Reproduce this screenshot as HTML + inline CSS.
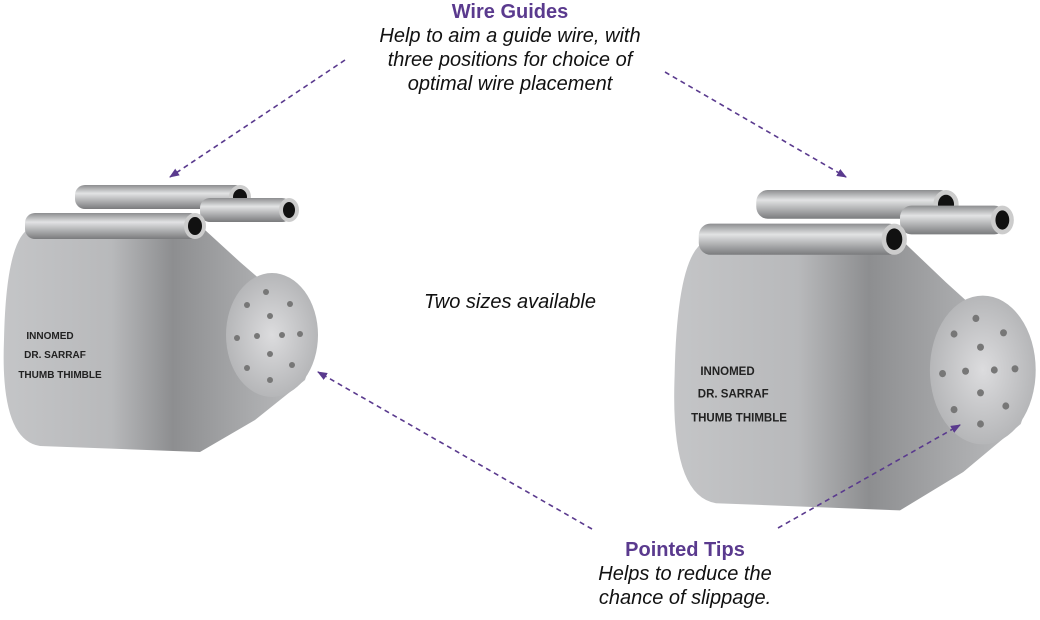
<!DOCTYPE html>
<html><head><style>
body{margin:0;background:#fff;}
.t{position:absolute;font-family:"Liberation Sans",sans-serif;color:#111;text-align:center;font-style:italic;font-size:20px;line-height:24px;}
.h{color:#5a3a8e;font-weight:bold;font-style:normal;}
</style></head><body>
<div style="position:relative;width:1040px;height:620px;overflow:hidden;">
<svg width="1040" height="620" style="position:absolute;left:0;top:0">
<defs>
<linearGradient id="body" x1="0" y1="0" x2="1" y2="0">
<stop offset="0" stop-color="#c4c5c7"/><stop offset="0.35" stop-color="#b8b9bb"/><stop offset="0.55" stop-color="#8d8e90"/><stop offset="0.8" stop-color="#a9aaac"/><stop offset="1" stop-color="#bdbec0"/></linearGradient>
<linearGradient id="tube" x1="0" y1="0" x2="0" y2="1">
<stop offset="0" stop-color="#8c8d8f"/><stop offset="0.35" stop-color="#e2e3e4"/><stop offset="1" stop-color="#7a7b7d"/></linearGradient>
<radialGradient id="face" cx="0.5" cy="0.5" r="0.6"><stop offset="0" stop-color="#dcdcde"/><stop offset="1" stop-color="#aeafb1"/></radialGradient>
<marker id="a" markerWidth="10" markerHeight="8" refX="9" refY="4" orient="auto" markerUnits="userSpaceOnUse"><path d="M0,0 L10,4 L0,8 Z" fill="#5a3a8e"/></marker>
<g id="th">
<rect x="75" y="185" width="170" height="24" rx="10" fill="url(#tube)"/>
<ellipse cx="240" cy="197" rx="11" ry="12" fill="#ccc"/><ellipse cx="240" cy="197" rx="7" ry="8" fill="#111"/>
<rect x="200" y="198" width="92" height="24" rx="10" fill="url(#tube)"/>
<ellipse cx="289" cy="210" rx="10" ry="12" fill="#ccc"/><ellipse cx="289" cy="210" rx="6" ry="8" fill="#111"/>
<path d="M30,228 L205,230 L240,262 L270,288 L300,310 Q320,340 305,380 L255,420 L200,452 L40,446 Q0,440 4,340 Q6,240 30,228 Z" fill="url(#body)"/>
<rect x="25" y="213" width="175" height="26" rx="10" fill="url(#tube)"/>
<ellipse cx="195" cy="226" rx="11" ry="13" fill="#ccc"/><ellipse cx="195" cy="226" rx="7" ry="9" fill="#111"/>
<ellipse cx="272" cy="335" rx="46" ry="62" fill="url(#face)"/>
<g fill="#777">
<circle cx="266" cy="292" r="3"/><circle cx="247" cy="305" r="3"/><circle cx="290" cy="304" r="3"/><circle cx="270" cy="316" r="3"/>
<circle cx="237" cy="338" r="3"/><circle cx="257" cy="336" r="3"/><circle cx="282" cy="335" r="3"/><circle cx="300" cy="334" r="3"/>
<circle cx="270" cy="354" r="3"/><circle cx="247" cy="368" r="3"/><circle cx="292" cy="365" r="3"/><circle cx="270" cy="380" r="3"/></g>
<g font-family="Liberation Sans,sans-serif" font-weight="bold" font-size="10" fill="#222" text-anchor="middle">
<text x="50" y="339">INNOMED</text><text x="55" y="358">DR. SARRAF</text><text x="60" y="378">THUMB THIMBLE</text></g>
</g>
</defs>
<use href="#th"/>
<use href="#th" transform="translate(670,-32) scale(1.15,1.2)"/>
<g stroke="#5a3a8e" stroke-width="1.6" stroke-dasharray="5,4" fill="none" marker-end="url(#a)">
<line x1="345" y1="60" x2="170" y2="177"/>
<line x1="665" y1="72" x2="846" y2="177"/>
<line x1="592" y1="529" x2="318" y2="372"/>
<line x1="778" y1="528" x2="960" y2="425"/>
</g>
</svg>
<div class="t" style="left:310px;top:0;width:400px;"><span class="h">Wire Guides</span><br>Help to aim a guide wire, with<br>three positions for choice of<br>optimal wire placement</div>
<div class="t" style="left:400px;top:290px;width:220px;">Two sizes available</div>
<div class="t" style="left:560px;top:538px;width:250px;"><span class="h">Pointed Tips</span><br>Helps to reduce the<br>chance of slippage.</div>
</div>
</body></html>
